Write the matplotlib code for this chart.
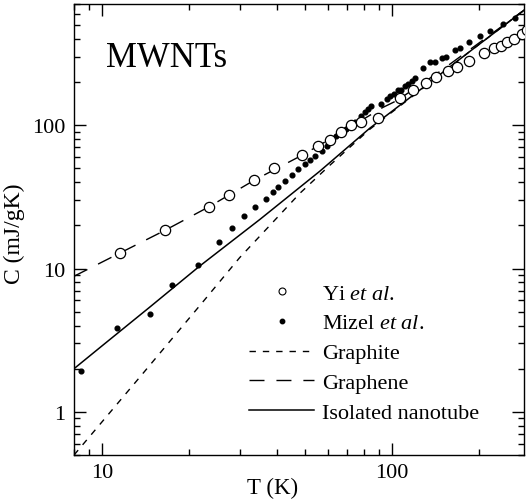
import matplotlib.pyplot as plt
from matplotlib.lines import Line2D
from matplotlib.ticker import FuncFormatter, NullFormatter

plt.rcParams["font.family"] = ["Liberation Serif", "DejaVu Serif"]
plt.rcParams["mathtext.fontset"] = "custom"
plt.rcParams["mathtext.rm"] = "Liberation Serif"
plt.rcParams["mathtext.it"] = "Liberation Serif:italic"

# Yi et al. (open circles)
yi_T = [11.5, 16.5, 23.4, 27.4, 33.4, 39.3, 48.9, 55.7, 61.3, 66.7, 72.4, 77.9,
        89.6, 106.6, 118.5, 130.7, 141.3, 156.0, 167.5, 184.3, 207.6, 224.8,
        237.0, 249.5, 262.9, 279.7, 291.0]
yi_C = [12.9, 18.5, 27.0, 32.4, 41.2, 50.0, 62.0, 71.6, 79.3, 89.3, 100.0, 105.0,
        112.8, 155.7, 174.8, 196.6, 215.6, 239.7, 253.2, 281.7, 317.2, 343.9,
        358.6, 378.7, 399.0, 432.7, 458.0]

# Mizel et al. (filled dots)
mizel_T = [8.45, 11.27, 14.64, 17.43, 21.43, 25.3, 28.06, 30.9, 33.8, 36.6, 38.9,
           40.5, 42.7, 45.0, 47.5, 50.1, 52.0, 54.2, 57.1, 59.4, 61.8, 64.3, 66.9,
           69.6, 71.5, 74.4, 78.4, 80.5, 82.6, 84.9, 91.9, 95.7, 98.7, 101.4, 104.6,
           107.2, 110.4, 113.3, 116.7, 119.8, 127.9, 135.4, 140.3, 148.1, 154.0,
           165.2, 171.6, 184.3, 200.6, 217.3, 240.9, 265.0]
mizel_C = [1.94, 3.82, 4.79, 7.64, 10.55, 15.3, 19.1, 23.1, 26.7, 30.6, 34.2,
           37.2, 40.9, 44.8, 49.2, 53.4, 57.2, 61.4, 66.1, 71.6, 77.7, 83.4, 88.9,
           93.8, 98.9, 104.4, 116.2, 122.7, 129.4, 136.9, 141.3, 151.2, 159.5, 165.5,
           175.7, 176.0, 188.3, 192.6, 204.0, 212.1, 250.4, 275.8, 277.7, 295.1,
           301.3, 333.0, 345.6, 378.7, 417.3, 452.0, 508.6, 560.0]

# model curves
graphite_T = [8.0, 13.5, 21.7, 29.8, 37.9, 48.1, 61.0, 83.8, 124.6, 185.3, 289.0]
graphite_C = [0.5, 1.75, 5.5, 11.9, 20.0, 33.5, 52.5, 93.7, 174.0, 326.6, 647.0]

graphene_T = [8.0, 11.5, 16.5, 23.4, 33.4, 48.9, 66.7, 92.9, 103.8, 146.0, 289.0]
graphene_C = [8.83, 12.8, 18.5, 27.0, 41.2, 61.7, 88.6, 132.9, 148.3, 236.6, 647.0]

tube_T = [8.0, 10.0, 14.6, 21.7, 35.0, 56.3, 83.8, 124.6, 185.3, 289.0]
tube_C = [2.0, 2.89, 5.38, 10.4, 22.0, 47.7, 95.3, 175.7, 326.6, 647.0]

GRAPHITE_DASH = (4.6, 5.0)
GRAPHENE_DASH = (10.8, 8.6)

fig = plt.figure(figsize=(5.26, 5.02), dpi=100)
ax = fig.add_axes([0.1407, 0.0916, 0.8555, 0.8984])

ax.plot(graphite_T, graphite_C, color="black", lw=1.0, dashes=GRAPHITE_DASH)
ax.plot(graphene_T, graphene_C, color="black", lw=1.0, dashes=GRAPHENE_DASH)
ax.plot(tube_T, tube_C, color="black", lw=1.1)
ax.plot(mizel_T, mizel_C, "o", ms=3.4, mfc="black", mec="black", zorder=4)
ax.plot(yi_T, yi_C, "o", ms=7.4, mfc="white", mec="black", mew=0.9, zorder=5)

ax.set_xscale("log")
ax.set_yscale("log")
ax.set_xlim(8, 285)
ax.set_ylim(0.5, 700)

fmt = FuncFormatter(lambda v, p: f"{v:g}")
ax.xaxis.set_major_formatter(fmt)
ax.yaxis.set_major_formatter(fmt)
ax.xaxis.set_minor_formatter(NullFormatter())
ax.yaxis.set_minor_formatter(NullFormatter())
ax.tick_params(which="both", direction="in", top=True, right=True, width=1.0,
               labelsize=16)
ax.tick_params(which="major", length=8.5, pad=6)
ax.tick_params(which="minor", length=4.5)
for s in ax.spines.values():
    s.set_linewidth(1.0)

ax.set_xlabel("T (K)", fontsize=16.5)
ax.set_ylabel("C (mJ/gK)", fontsize=17)
ax.xaxis.set_label_coords(0.442, -0.048)
ax.yaxis.set_label_coords(-0.109, 0.492)

ax.text(0.071, 0.863, "MWNTs", transform=ax.transAxes, fontsize=25,
        va="baseline", ha="left")

handles = [
    Line2D([], [], ls="none", marker="o", ms=5.0, mfc="white", mec="black", mew=0.8),
    Line2D([], [], ls="none", marker="o", ms=3.2, mfc="black", mec="black"),
    Line2D([], [], color="black", lw=1.0, dashes=GRAPHITE_DASH),
    Line2D([], [], color="black", lw=1.0, dashes=GRAPHENE_DASH),
    Line2D([], [], color="black", lw=1.1),
]
labels = [r"Yi $\mathit{et\ al.}$", r"Mizel $\mathit{et\ al.}$", "Graphite",
          "Graphene", "Isolated nanotube"]
ax.legend(handles, labels, loc="center", bbox_to_anchor=(0.645, 0.226),
          frameon=False, fontsize=16, handlelength=2.9, handletextpad=0.36,
          labelspacing=0.42, borderpad=0.2)

fig.savefig("out.png", dpi=100)
